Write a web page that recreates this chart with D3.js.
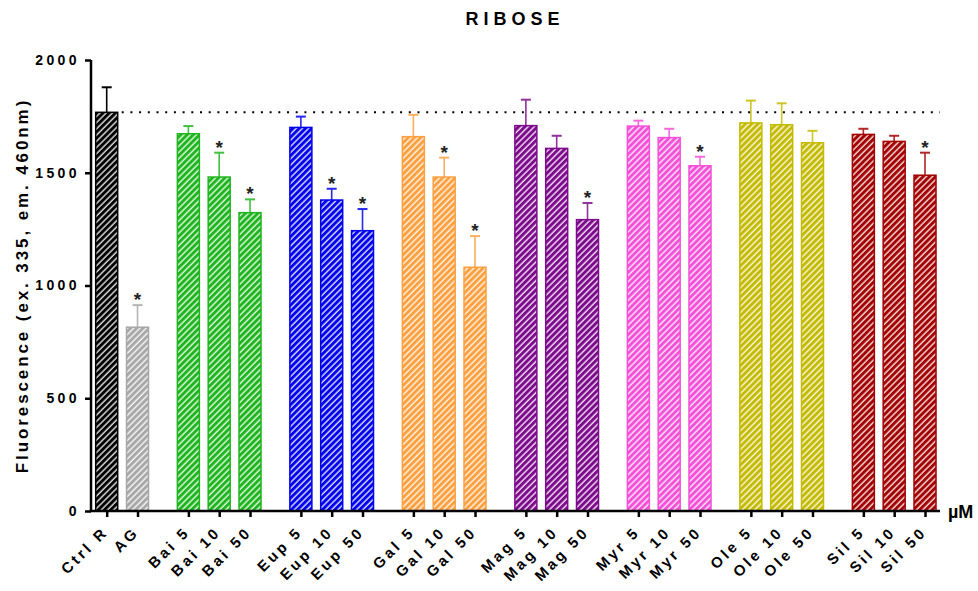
<!DOCTYPE html>
<html>
<head>
<meta charset="utf-8">
<script src="https://cdn.jsdelivr.net/npm/d3@7"></script>
<style>
  html, body { margin: 0; padding: 0; background: #fff; }
  svg { display: block; }
  text { font-family: "Liberation Sans", Arial, sans-serif; font-weight: bold; fill: #000; }
</style>
</head>
<body>
<svg id="chart" width="978" height="591"></svg>
<script>
// Fluorescence readings after ribose glycation, mean ± error, one bar per treatment
const categories = ["Ctrl R", "AG",
  "Bai 5", "Bai 10", "Bai 50",
  "Eup 5", "Eup 10", "Eup 50",
  "Gal 5", "Gal 10", "Gal 50",
  "Mag 5", "Mag 10", "Mag 50",
  "Myr 5", "Myr 10", "Myr 50",
  "Ole 5", "Ole 10", "Ole 50",
  "Sil 5", "Sil 10", "Sil 50"];
const groupIndex = [0, 0, 1, 1, 1, 2, 2, 2, 3, 3, 3, 4, 4, 4, 5, 5, 5, 6, 6, 6, 7, 7, 7];
const means = [1768, 815,
  1673, 1481, 1323,
  1701, 1379, 1243,
  1660, 1481, 1081,
  1709, 1608, 1292,
  1707, 1656, 1531,
  1721, 1713, 1633,
  1670, 1639, 1489];
const errors = [111, 98,
  34, 108, 59,
  48, 50, 96,
  97, 86, 138,
  115, 56, 74,
  24, 39, 40,
  99, 95, 53,
  25, 25, 100];
const significant = [false, true,
  false, true, true,
  false, true, true,
  false, true, true,
  false, false, true,
  false, false, true,
  false, false, false,
  false, false, true];
const barColors = ["#000000", "#a8a8a8",
  "#1fb51f", "#1fb51f", "#1fb51f",
  "#0000ee", "#0000ee", "#0000ee",
  "#ffa040", "#ffa040", "#ffa040",
  "#7d0a8c", "#7d0a8c", "#7d0a8c",
  "#f550d8", "#f550d8", "#f550d8",
  "#c4bb00", "#c4bb00", "#c4bb00",
  "#a30000", "#a30000", "#a30000"];
const yTicks = [0, 500, 1000, 1500, 2000];
const controlLevel = means[0];
const titleText = "RIBOSE";
const yTitle = "Fluorescence (ex. 335, em. 460nm)";
const unitText = "µM";

const svg = d3.select("#chart");

// Bars sit one unit apart, with an extra part-unit gap between treatment groups
const groupGap = 0.65;
const slot = categories.map((c, i) => i + groupIndex[i] * groupGap);
const x = d3.scaleLinear().domain([0, d3.max(slot)]).range([106.7, 925]);
const y = d3.scaleLinear().domain([0, 2000]).range([511, 60]);
const barW = 22;

const axisLeft = 91, axisRight = 940, axisBottom = y(0);

// Diagonal hatch pattern per colour
const defs = svg.append("defs");
const uniqueColors = Array.from(new Set(barColors));
uniqueColors.forEach((c, k) => {
  const p = defs.append("pattern")
    .attr("id", "hatch" + k)
    .attr("patternUnits", "userSpaceOnUse")
    .attr("width", 4.4).attr("height", 10)
    .attr("patternTransform", "rotate(45)");
  p.append("rect").attr("width", 4.4).attr("height", 10).attr("fill", c);
  p.append("line").attr("x1", 1).attr("x2", 1).attr("y1", 0).attr("y2", 10)
    .attr("stroke", "#fff").attr("stroke-width", 1.3).attr("stroke-opacity", 0.95);
});
const patternFor = c => "url(#hatch" + uniqueColors.indexOf(c) + ")";

// Title
svg.append("text")
  .attr("x", 515).attr("y", 25)
  .attr("text-anchor", "middle")
  .style("font-size", "18px")
  .style("letter-spacing", "5px")
  .text(titleText);

// Error bars, drawn in a lighter tint of the bar colour
const eb = svg.append("g");
categories.forEach((c, i) => {
  const cx = x(slot[i]);
  const top = y(means[i] + errors[i]);
  const col = i === 0 ? barColors[i] : d3.interpolateRgb(barColors[i], "#fff")(0.15);
  eb.append("line").attr("x1", cx).attr("x2", cx)
    .attr("y1", y(means[i])).attr("y2", top)
    .attr("stroke", col).attr("stroke-width", 1.6);
  eb.append("line").attr("x1", cx - 5).attr("x2", cx + 5)
    .attr("y1", top).attr("y2", top)
    .attr("stroke", col).attr("stroke-width", 2);
});

// Bars
svg.append("g").selectAll("rect")
  .data(categories)
  .join("rect")
  .attr("x", (d, i) => x(slot[i]) - barW / 2)
  .attr("y", (d, i) => y(means[i]))
  .attr("width", barW)
  .attr("height", (d, i) => y(0) - y(means[i]))
  .attr("fill", (d, i) => patternFor(barColors[i]))
  .attr("stroke", (d, i) => barColors[i])
  .attr("stroke-width", 1.5);

// Control reference line
svg.append("line")
  .attr("x1", x(slot[0]) + barW / 2 + 4).attr("x2", axisRight)
  .attr("y1", y(controlLevel)).attr("y2", y(controlLevel))
  .attr("stroke", "#000").attr("stroke-width", 2)
  .attr("stroke-dasharray", "2,6.7");

// Significance stars
svg.append("g").selectAll("text")
  .data(categories.filter((c, i) => significant[i]))
  .join("text")
  .attr("x", d => x(slot[categories.indexOf(d)]))
  .attr("y", d => { const i = categories.indexOf(d); return y(means[i] + errors[i]) + 1; })
  .attr("text-anchor", "middle")
  .style("font-size", "19px")
  .style("fill", "#222")
  .text("*");

// Y axis
const yAxis = svg.append("g").attr("transform", `translate(${axisLeft},0)`)
  .call(d3.axisLeft(y).tickValues(yTicks).tickSize(6).tickPadding(5).tickFormat(d3.format("d")));
yAxis.select(".domain").attr("stroke", "#000").attr("stroke-width", 2.5)
  .attr("d", `M0,${y(2000)}V${axisBottom}`);
yAxis.selectAll(".tick line").attr("stroke", "#000").attr("stroke-width", 2.5);
yAxis.selectAll(".tick text")
  .style("font-family", "'Liberation Sans', Arial, sans-serif")
  .style("font-weight", "bold")
  .style("font-size", "14px")
  .style("letter-spacing", "3.4px");

// X axis
const xAxis = svg.append("g").attr("transform", `translate(0,${axisBottom})`)
  .call(d3.axisBottom(x).tickValues(slot).tickSize(6).tickFormat((d, i) => categories[i]));
xAxis.select(".domain").attr("stroke", "#000").attr("stroke-width", 2.5)
  .attr("d", `M${axisLeft - 1.25},0H${axisRight}`);
xAxis.selectAll(".tick line").attr("stroke", "#000").attr("stroke-width", 2.5);
xAxis.selectAll(".tick text")
  .style("font-family", "'Liberation Sans', Arial, sans-serif")
  .style("font-weight", "bold")
  .style("font-size", "15px")
  .style("letter-spacing", "3.1px")
  .attr("text-anchor", "end")
  .attr("dy", null)
  .attr("transform", "translate(2,22) rotate(-45)")
  .attr("x", 0).attr("y", 0);

// Unit label at the end of the category axis
svg.append("text")
  .attr("x", 948).attr("y", axisBottom + 7)
  .style("font-size", "18px")
  .text(unitText);

// Y axis title
svg.append("text")
  .attr("transform", `translate(28,${(y(0) + y(2000)) / 2}) rotate(-90)`)
  .attr("text-anchor", "middle")
  .style("font-size", "17px")
  .style("letter-spacing", "2.9px")
  .text(yTitle);
</script>
</body>
</html>
